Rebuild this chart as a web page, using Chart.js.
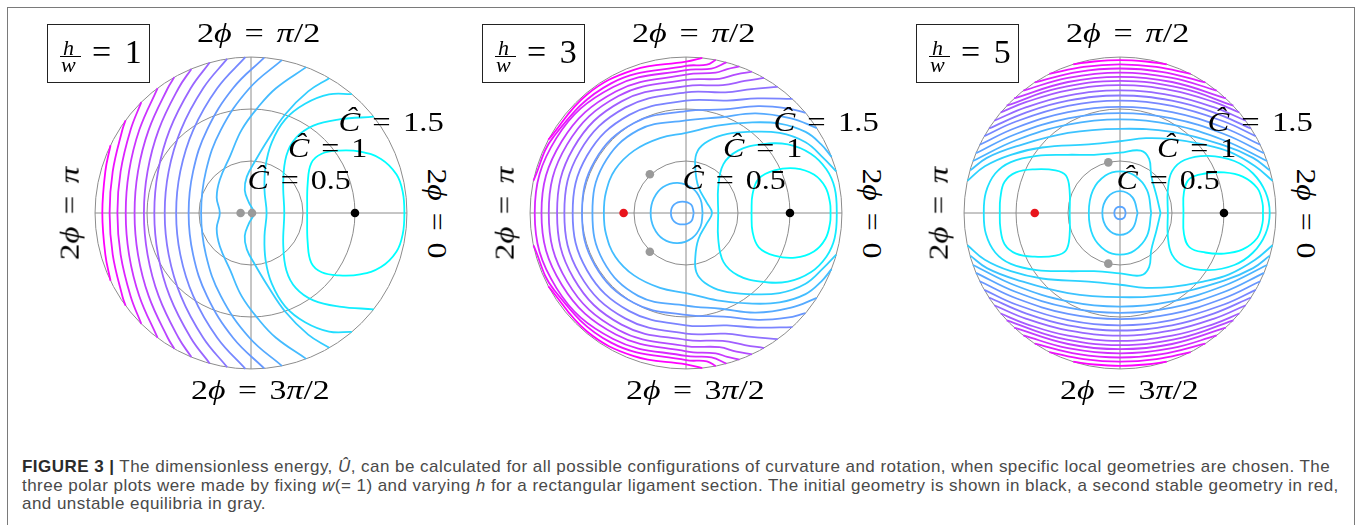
<!DOCTYPE html>
<html>
<head>
<meta charset="utf-8">
<script src="https://cdn.jsdelivr.net/npm/chart.js@4.4.1/dist/chart.umd.min.js"></script>
<style>
  body { margin: 0; width: 1357px; height: 525px; background: #fff; position: relative; overflow: hidden; }
  .frame { position: absolute; left: 7px; top: 7px; width: 1348px; height: 600px; box-sizing: border-box; border: 1.5px solid #7a7a7a; }
  .plot { position: absolute; top: 43px; width: 340px; height: 340px; }
  .txt { position: absolute; white-space: nowrap; line-height: 1; color: #000; font-family: "Liberation Serif", "DejaVu Serif", serif; transform-origin: 50% 50%; }
  .box { position: absolute; top: 24px; width: 103px; height: 59px; box-sizing: border-box; border: 1.5px solid #222; background: #fff; }
  .box .t { position: absolute; white-space: nowrap; line-height: 1; font-family: "Liberation Serif", "DejaVu Serif", serif; }
  .box .bar { position: absolute; left: 12px; top: 31px; width: 21px; height: 1.3px; background: #000; }
  #caption { position: absolute; left: 22px; top: 458px; font-family: "Liberation Sans", Arial, sans-serif; font-size: 17px; line-height: 18.6px; color: #4a4a4a; }
  #caption .cl { white-space: nowrap; width: max-content; }
  #caption b { color: #2b2b2b; }
</style>
</head>
<body>
<div class="frame"></div>
<canvas id="plot1" class="plot" width="340" height="340"></canvas>
<canvas id="plot2" class="plot" width="340" height="340"></canvas>
<canvas id="plot3" class="plot" width="340" height="340"></canvas>

<div id="caption">
  <div class="cl" id="cl1"><b>FIGURE 3 |</b> The dimensionless energy, <i>Û</i>, can be calculated for all possible configurations of curvature and rotation, when specific local geometries are chosen. The</div>
  <div class="cl">three polar plots were made by fixing <i>w</i>(= 1) and varying <i>h</i> for a rectangular ligament section. The initial geometry is shown in black, a second stable geometry in red,</div>
  <div class="cl">and unstable equilibria in gray.</div>
</div>

<script>
// Ĉ is the radius, 2ϕ the angle: x = Ĉ cos 2ϕ, y = Ĉ sin 2ϕ
// every plot is symmetric about 2ϕ = 0, so only the upper half of each contour is listed
// kinds: 'open' = axis -> rim, 'loop' = axis -> axis, 'arc' = rim -> rim
const ratios = ['1', '3', '5'];
const ringValues = [0.5, 1, 1.5];
const ringLabels = ['0.5', '1', '1.5'];

// h/w = 1
const p1Lines = [
  [[0.54,0],[0.545,0.28],[0.58,0.48],[0.68,0.57],[0.85,0.6],[1.05,0.59],[1.25,0.52],[1.4,0.37],[1.46,0.2],[1.475,0]],
  [[0.32,0],[0.31,0.3],[0.34,0.55],[0.43,0.72],[0.6,0.84],[0.85,0.9],[1.18,0.926]],
  [[0.15,0],[0.13,0.22],[0.14,0.45],[0.2,0.68],[0.33,0.9],[0.52,1.05],[0.75,1.14],[0.97,1.144]],
  [[0.03,0],[-0.02,0.1],[-0.06,0.22],[-0.04,0.35],[0.04,0.5],[0.16,0.7],[0.33,0.95],[0.55,1.17],[0.753,1.297]],
  [[-0.3,0],[-0.33,0.15],[-0.3,0.32],[-0.2,0.55],[-0.09,0.8],[0.07,1.02],[0.24,1.2],[0.531,1.403]],
  [[-0.48,0],[-0.434,0.4],[-0.29,0.8],[-0.015,1.2],[0.297,1.47]],
  [[-0.6,0],[-0.557,0.4],[-0.423,0.8],[-0.173,1.2],[0.127,1.495]],
  [[-0.72,0],[-0.68,0.4],[-0.555,0.8],[-0.325,1.2],[-0.054,1.499]],
  [[-0.83,0],[-0.792,0.4],[-0.674,0.8],[-0.46,1.2],[-0.23,1.482]],
  [[-0.93,0],[-0.894,0.4],[-0.782,0.8],[-0.58,1.2],[-0.397,1.447]],
  [[-1.03,0],[-0.995,0.4],[-0.888,0.8],[-0.697,1.2],[-0.573,1.386]],
  [[-1.12,0],[-1.087,0.4],[-0.984,0.8],[-0.801,1.2],[-0.737,1.307]],
  [[-1.205,0],[-1.173,0.4],[-1.074,0.8],[-0.898,1.202]],
  [[-1.285,0],[-1.254,0.4],[-1.158,0.8],[-1.055,1.066]],
  [[-1.36,0],[-1.33,0.4],[-1.237,0.8],[-1.206,0.892]],
  [[-1.43,0],[-1.401,0.4],[-1.351,0.652]]
];
const p1Kinds = ['loop','open','open','open','open','open','open','open','open','open','open','open','open','open','open','open'];
const p1Levels = [0,1,2,3,4,5,6,7,8,9,10,11,12,13,14,15];
const p1DotAngles = [180, 0, 0];
const p1DotRadii = [0.1, 0.01, 1.0];
const p1DotKinds = ['unstable', 'unstable', 'initial'];

// h/w = 3
const p2Lines = [
  [[0.63,0],[0.64,0.18],[0.7,0.33],[0.85,0.41],[1.05,0.43],[1.23,0.37],[1.34,0.25],[1.385,0.1],[1.39,0]],
  [[0.31,0],[0.31,0.25],[0.36,0.47],[0.5,0.6],[0.72,0.66],[0.98,0.66],[1.2,0.57],[1.35,0.42],[1.43,0.24],[1.45,0]],
  [[0.075,0],[0.05,0.08],[-0.034,0.11],[-0.115,0.08],[-0.145,0]],
  [[0.16,0],[0.14,0.13],[0.06,0.24],[-0.08,0.29],[-0.22,0.25],[-0.31,0.14],[-0.34,0]],
  [[0.25,0],[0.2,0.1],[0.12,0.25],[0.09,0.42],[0.1,0.57],[0.18,0.67],[0.35,0.75],[0.6,0.78],[0.9,0.77],[1.15,0.68],[1.32,0.53],[1.445,0.4]],
  [[-0.79,0],[-0.77,0.2],[-0.68,0.42],[-0.5,0.6],[-0.25,0.72],[0,0.77],[0.3,0.84],[0.6,0.87],[0.9,0.86],[1.15,0.78],[1.3,0.66],[1.4,0.54]]
];
const p2Kinds = ['loop','loop','loop','loop','open','open'];
const p2Levels = [0, 1, 4.5, 3.5, 2.5, 3.5];
// outer contours of h/w = 3 read as [2ϕ in degrees, Ĉ]
const p2Polar = [
  [[180,0.9],[150,0.92],[120,0.92],[90,0.89],[70,0.98],[55,1.17],[42,1.36],[33,1.5]],
  [[180,1.0],[150,1.01],[120,1.0],[90,0.98],[70,1.06],[56,1.24],[46,1.4],[40,1.5]],
  [[180,1.09],[150,1.1],[120,1.09],[90,1.08],[70,1.15],[58,1.3],[47,1.5]],
  [[180,1.17],[150,1.18],[120,1.17],[90,1.16],[72,1.22],[62,1.35],[54,1.5]],
  [[180,1.24],[150,1.25],[120,1.24],[90,1.22],[74,1.28],[66,1.39],[60,1.5]],
  [[180,1.32],[150,1.32],[120,1.3],[90,1.28],[76,1.33],[70,1.42],[65,1.5]],
  [[180,1.39],[150,1.38],[120,1.35],[90,1.33],[78,1.38],[74,1.44],[70,1.5]],
  [[180,1.455],[150,1.44],[120,1.4],[90,1.375],[80,1.41],[75,1.5]],
  [[168,1.5],[150,1.47],[120,1.44],[90,1.415],[82,1.44],[79,1.5]],
  [[152,1.5],[130,1.485],[110,1.465],[90,1.455],[84,1.5]]
];
const p2PolarKinds = ['open','open','open','open','open','open','open','open','arc','arc'];
const p2PolarLevels = [4.5, 5.5, 6.5, 7.5, 8.5, 9.5, 10.5, 11.5, 12.5, 13.5];
const p2DotAngles = [180, 133, 227, 0];
const p2DotRadii = [0.6, 0.51, 0.51, 1.0];
const p2DotKinds = ['second', 'unstable', 'unstable', 'initial'];

// h/w = 5
const p3Lines = [
  [[0.61,0],[0.615,0.2],[0.67,0.33],[0.82,0.38],[1.0,0.39],[1.18,0.35],[1.32,0.24],[1.37,0.1],[1.375,0]],
  [[-0.484,0],[-0.485,0.22],[-0.52,0.36],[-0.62,0.41],[-0.82,0.42],[-1.0,0.39],[-1.11,0.3],[-1.15,0.15],[-1.156,0]],
  [[0.46,0],[0.46,0.22],[0.5,0.4],[0.62,0.51],[0.85,0.55],[1.1,0.5],[1.28,0.38],[1.4,0.2],[1.44,0]],
  [[0.055,0],[0.04,0.045],[0,0.06],[-0.04,0.045],[-0.055,0]],
  [[0.17,0],[0.12,0.15],[0,0.21],[-0.12,0.15],[-0.17,0]],
  [[0.3,0],[0.26,0.22],[0.14,0.36],[0,0.4],[-0.14,0.36],[-0.26,0.22],[-0.3,0]],
  [[0.39,0],[0.35,0.17],[0.3,0.36],[0.28,0.52],[0.2,0.6],[0,0.58],[-0.25,0.56],[-0.5,0.56],[-0.8,0.55],[-1.05,0.49],[-1.2,0.38],[-1.29,0.2],[-1.31,0]],
  [[-1.467,0.31],[-1.3,0.45],[-1.05,0.56],[-0.75,0.63],[-0.3,0.66],[0,0.69],[0.25,0.72],[0.5,0.71],[0.8,0.66],[1.05,0.59],[1.3,0.45],[1.467,0.31]],
  [[-1.44,0.41],[-1.28,0.53],[-1.0,0.64],[-0.5,0.77],[0,0.81],[0.5,0.78],[1.0,0.65],[1.28,0.53],[1.44,0.41]],
  [[-1.415,0.5],[-1.0,0.7],[-0.5,0.85],[0,0.9],[0.5,0.85],[1.0,0.7],[1.415,0.5]],
  [[-1.385,0.576],[-1.0,0.76],[-0.5,0.91],[0,0.96],[0.5,0.91],[1.0,0.76],[1.385,0.576]],
  [[-1.35,0.656],[-1.0,0.82],[-0.5,0.97],[0,1.02],[0.5,0.97],[1.0,0.82],[1.35,0.656]],
  [[-1.305,0.739],[-1.0,0.88],[-0.5,1.03],[0,1.08],[0.5,1.03],[1.0,0.88],[1.305,0.739]],
  [[-1.26,0.8125],[-0.9,0.968],[-0.5,1.08],[0,1.13],[0.5,1.08],[0.9,0.968],[1.26,0.8125]],
  [[-1.21,0.887],[-0.9,1.018],[-0.5,1.13],[0,1.18],[0.5,1.13],[0.9,1.018],[1.21,0.887]],
  [[-1.147,0.967],[-0.9,1.068],[-0.5,1.18],[0,1.23],[0.5,1.18],[0.9,1.068],[1.147,0.967]],
  [[-1.09,1.032],[-0.6,1.198],[0,1.27],[0.6,1.198],[1.09,1.032]],
  [[-1.018,1.103],[-0.5,1.26],[0,1.31],[0.5,1.26],[1.018,1.103]],
  [[-0.93,1.177],[-0.5,1.3],[0,1.35],[0.5,1.3],[0.93,1.177]],
  [[-0.82,1.256],[-0.4,1.358],[0,1.39],[0.4,1.358],[0.82,1.256]],
  [[-0.68,1.3375],[-0.35,1.405],[0,1.43],[0.35,1.405],[0.68,1.3375]],
  [[-0.45,1.43],[-0.25,1.457],[0,1.47],[0.25,1.457],[0.45,1.43]]
];
const p3Kinds = ['loop','loop','loop','loop','loop','loop','loop','arc','arc','arc','arc','arc','arc','arc','arc','arc','arc','arc','arc','arc','arc','arc'];
const p3Levels = [0, 0.8, 1, 6, 4, 2.5, 2, 3, 4, 5, 6, 7, 8, 9, 10, 11, 12, 13, 14, 15, 16, 17];
const p3DotAngles = [180, 103, 257, 0];
const p3DotRadii = [0.82, 0.5, 0.5, 1.0];
const p3DotKinds = ['second', 'unstable', 'unstable', 'initial'];

// ---- drawing ----
const centersX = [251, 686, 1120];
const centerY = 213;
const pxPerC = 160 / 1.5;
const LIM = 170 / pxPerC;
const dotColors = { initial: '#000000', second: '#e8141c', unstable: '#9a9a9a' };

function cool(t) {
  return `rgb(${Math.round(255 * t)},${Math.round(255 * (1 - t))},255)`;
}
function fromPolar(pts) {
  return pts.map(([deg, c]) => [c * Math.cos(deg * Math.PI / 180), c * Math.sin(deg * Math.PI / 180)]);
}
function mirror(pts) { return pts.map(([x, y]) => [x, -y]); }
function paths(kind, pts) {
  if (kind === 'loop') return [pts.concat(mirror(pts).reverse().slice(1))];
  if (kind === 'open') return [mirror(pts).reverse().concat(pts.slice(1))];
  return [pts, mirror(pts)];
}

const polarGrid = {
  id: 'polarGrid',
  beforeDatasetsDraw(chart) {
    const { ctx, scales: { x, y } } = chart;
    const ox = x.getPixelForValue(0), oy = y.getPixelForValue(0);
    const R = x.getPixelForValue(1.5) - ox;
    ctx.save();
    ctx.strokeStyle = '#8c8c8c';
    ctx.lineWidth = 1;
    ringValues.forEach(v => {
      ctx.beginPath();
      ctx.arc(ox, oy, x.getPixelForValue(v) - ox, 0, Math.PI * 2);
      ctx.stroke();
    });
    ctx.beginPath();
    ctx.moveTo(ox - R, oy); ctx.lineTo(ox + R, oy);
    ctx.moveTo(ox, oy - R); ctx.lineTo(ox, oy + R);
    ctx.stroke();
    ctx.restore();
  }
};

function buildPlot(id, lines, kinds, levels, maxLevel, dotAngles, dotRadii, dotKinds) {
  const datasets = [];
  lines.forEach((pts, i) => {
    paths(kinds[i], pts).forEach(p => {
      datasets.push({
        data: p.map(([x, y]) => ({ x, y })),
        borderColor: cool(levels[i] / maxLevel),
        borderWidth: 1.8,
        pointRadius: 0,
        tension: 0.4,
        fill: false,
        clip: false,
        order: 1
      });
    });
  });
  const dots = fromPolar(dotAngles.map((a, i) => [a, dotRadii[i]]));
  datasets.push({
    data: dots.map(([x, y]) => ({ x, y })),
    showLine: false,
    pointRadius: 4.3,
    pointBorderWidth: 0,
    pointBackgroundColor: dotKinds.map(k => dotColors[k]),
    clip: false,
    order: 0
  });

  const canvas = document.getElementById(id);
  new Chart(canvas, {
    type: 'line',
    data: { datasets },
    options: {
      responsive: false,
      animation: false,
      devicePixelRatio: 1,
      events: [],
      layout: { padding: 0 },
      plugins: { legend: { display: false }, tooltip: { enabled: false } },
      scales: {
        x: { type: 'linear', min: -LIM, max: LIM, display: false },
        y: { type: 'linear', min: -LIM, max: LIM, display: false }
      }
    },
    plugins: [polarGrid]
  });
}

['plot1', 'plot2', 'plot3'].forEach((id, i) => {
  document.getElementById(id).style.left = (centersX[i] - 170) + 'px';
});

buildPlot('plot1', p1Lines, p1Kinds, p1Levels, 15, p1DotAngles, p1DotRadii, p1DotKinds);
buildPlot('plot2',
  p2Lines.concat(p2Polar.map(fromPolar)),
  p2Kinds.concat(p2PolarKinds),
  p2Levels.concat(p2PolarLevels),
  13.5, p2DotAngles, p2DotRadii, p2DotKinds);
buildPlot('plot3', p3Lines, p3Kinds, p3Levels, 17, p3DotAngles, p3DotRadii, p3DotKinds);

// ---- text ----
const BASE = 0.8375; // baseline offset of Liberation Serif with line-height 1

function makeText(html, size) {
  const el = document.createElement('div');
  el.className = 'txt';
  el.style.fontSize = size + 'px';
  el.style.wordSpacing = (size * 0.12) + 'px';
  el.innerHTML = html;
  document.body.appendChild(el);
  return el;
}
// computer-modern glyphs are wider than Times: stretch to the measured width
function place(el, x, y, size, target, deg, anchorLeft) {
  const w = el.offsetWidth;
  const s = target / w;
  el.style.left = (anchorLeft ? x - (w - target) / 2 : x - w / 2) + 'px';
  el.style.top = (deg ? y - size / 2 : y - BASE * size) + 'px';
  el.style.transform = (deg ? `rotate(${deg}deg) ` : '') + `scaleX(${s})`;
}

centersX.forEach((cx, i) => {
  place(makeText('2<i>ϕ</i> = <i>π</i>/2', 27), cx + 7, 43, 27, 123, 0);
  place(makeText('2<i>ϕ</i> = 3<i>π</i>/2', 27), cx + 9, 400, 27, 139, 0);
  place(makeText('2<i>ϕ</i> = <i>π</i>', 27), cx - 181, centerY, 27, 93, -90);
  place(makeText('2<i>ϕ</i> = 0', 27), cx + 185, centerY, 27, 90, 90);

  const ringPos = [[-4, -24, 103], [37, -56, 79], [87, -82, 105]];
  ringLabels.forEach((lab, k) => {
    const el = makeText('<i>Ĉ</i> = ' + lab, 28);
    place(el, cx + ringPos[k][0], centerY + ringPos[k][1], 28, ringPos[k][2], 0, true);
  });

  const box = document.createElement('div');
  box.className = 'box';
  box.style.left = (cx - 204) + 'px';
  box.innerHTML =
    `<span class="t" style="left:15px;top:${30 - BASE * 22}px;font-size:22px"><i>h</i></span>` +
    '<span class="bar"></span>' +
    `<span class="t" style="left:13px;top:${47 - BASE * 22}px;font-size:22px"><i>w</i></span>` +
    `<span class="t" style="left:44px;top:${38 - BASE * 34}px;font-size:34px;word-spacing:5px">= ${ratios[i]}</span>`;
  document.body.appendChild(box);
});

// caption: stretch letter spacing so the first line spans the frame like the original
const cl1 = document.getElementById('cl1');
const ls = (1308 - cl1.offsetWidth) / cl1.textContent.length;
document.getElementById('caption').style.letterSpacing = ls + 'px';
</script>
</body>
</html>
